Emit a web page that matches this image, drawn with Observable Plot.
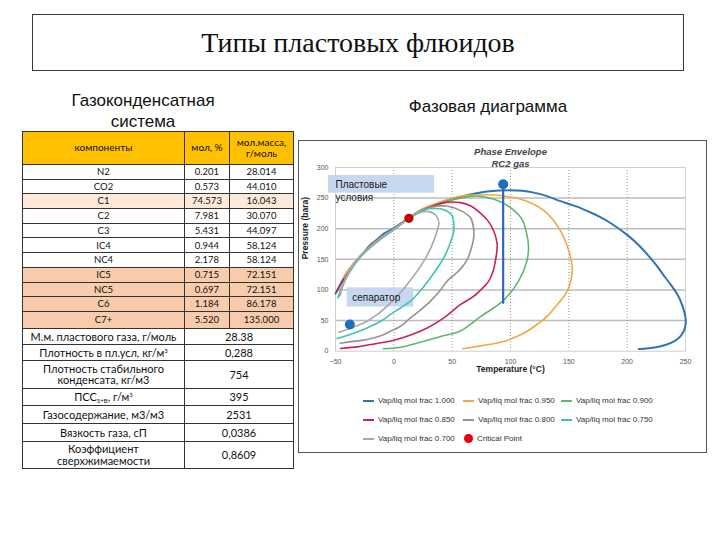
<!DOCTYPE html>
<html><head><meta charset="utf-8">
<script src="https://cdn.jsdelivr.net/npm/d3@7"></script>
<script src="https://cdn.jsdelivr.net/npm/@observablehq/plot@0.6"></script>
<style>
body{margin:0;width:720px;height:540px;background:#fff;position:relative;overflow:hidden;font-family:"Liberation Sans",Arial,sans-serif;}
#titlebox{position:absolute;left:32px;top:14px;width:652px;height:57px;border:1px solid #3a3a3a;box-sizing:border-box;display:flex;align-items:center;justify-content:center;font-family:"Liberation Serif","Times New Roman",serif;font-size:28px;color:#111;}
.h{position:absolute;font-size:17px;text-align:center;color:#111;line-height:21px;}
#tbl{position:absolute;left:22px;top:131px;border-collapse:collapse;table-layout:fixed;font-family:Lato,"Noto Sans",sans-serif;color:#111;}
#tbl td{border:1px solid #333;padding:0;text-align:center;line-height:11.5px;overflow:hidden;white-space:nowrap;}
#tbl sub{font-size:6px;vertical-align:-2px;line-height:0}
#tbl sup{font-size:6px;vertical-align:4px;line-height:0}
#chartbox{position:absolute;left:298px;top:140px;width:409px;height:313px;border:1px solid #555;box-sizing:border-box;}
#plot{position:absolute;left:298px;top:140px;}
#legend{position:absolute;left:363px;top:391px;display:grid;grid-template-columns:100px 98px 110px;grid-auto-rows:19px;font-family:"Liberation Sans",sans-serif;font-size:8px;color:#333;}
#legend .it{display:flex;align-items:center;white-space:nowrap;}
#legend .sw{display:inline-block;width:11px;height:2px;margin-right:4px;}
#legend .dot{display:inline-block;width:9px;height:9px;border-radius:50%;margin-right:4px;margin-left:1px;}
</style>
</head><body>
<div id="titlebox">Типы пластовых флюидов</div>
<div class="h" style="left:48px;top:90px;width:190px;">Газоконденсатная<br>система</div>
<div class="h" style="left:388px;top:96px;width:200px;">Фазовая диаграмма</div>
<table id="tbl"></table>
<div id="chartbox"></div>
<div id="plot"></div>
<div id="legend"></div>
<script>
// ---- Table data ----
const headers = ["компоненты", "мол, %", "мол.масса,\nг/моль"];
const components = ["N2","CO2","C1","C2","C3","IC4","NC4","IC5","NC5","C6","C7+"];
const molPct = ["0.201","0.573","74.573","7.981","5.431","0.944","2.178","0.715","0.697","1.184","5.520"];
const molMass = ["28.014","44.010","16.043","30.070","44.097","58.124","58.124","72.151","72.151","86.178","135.000"];
const propLabels = ["М.м. пластового газа, г/моль","Плотность в пл.усл, кг/м^3","Плотность стабильного\nконденсата, кг/м3","ПСС_5+В_, г/м^3","Газосодержание, м3/м3","Вязкость газа, сП","Коэффициент\nсверхжимаемости"];
const propValues = ["28.38","0,288","754","395","2531","0,0386","0,8609"];

// ---- Chart data: phase envelope curves (Temperature °C, Pressure bara) ----
const seriesNames = ["Vap/liq mol frac 1.000","Vap/liq mol frac 0.950","Vap/liq mol frac 0.900","Vap/liq mol frac 0.850","Vap/liq mol frac 0.800","Vap/liq mol frac 0.750","Vap/liq mol frac 0.700"];
const vap1000 = [[-50,94],[-45,112],[-41,126],[-36,139],[-31,150],[-25,163],[-20,174],[-14,183],[-8.6,192],[0,201],[6,209],[12.9,217],[20,225],[28.6,233.5],[37,240],[45.7,245.5],[55,251],[62.9,254.7],[71,258],[80,260.7],[90,262.5],[100,263],[110,262],[120,259],[130,254],[143,245],[157,236],[168,227],[177,219],[186,209],[200,190],[210,173],[220,152],[226,138],[232,122],[238,107],[243,93],[247,76],[250,55],[250,43],[248.5,33],[246,25],[241,17],[234,11],[226,7],[218,5],[210,3.5]];
const vap0950 = [[59,4],[75,9],[94,16],[110,28],[123,44],[132,58],[140,76],[146,90],[150,104],[153,131],[152,148],[150,164],[143,196],[129,229],[109,248],[86,255],[69,255],[57,253],[40,244],[25,233],[13,218],[0,199],[-10,187],[-20,172],[-30,153],[-38,135],[-43,120]];
const vap0900 = [[-9,4],[5.7,6.5],[25.7,16.4],[40,24],[57,33],[74,56],[94,83],[107,115],[114,147],[115.5,169],[114,191],[110,215],[100,234.5],[86,248],[71,253.5],[57,250],[40,242],[25,231],[13,217],[0,198],[-10,185],[-20,170],[-30,151],[-38,129],[-44,107],[-47,90]];
const vap0850 = [[-45.7,4.4],[-30,7.5],[-20,10.9],[0,18],[15,27],[28.6,38],[42.9,54.5],[57,76],[68.6,90],[76,103],[81.4,114.5],[85,130],[87,147],[88.6,174.5],[85.7,196],[81,212],[74,226],[66,237],[57,242.7],[45,243],[32,236],[20,226],[10,214],[0,199],[-10,186],[-20,171],[-30,152],[-38,131],[-45,111],[-49,97]];
const vap0800 = [[-46,13],[-35,16],[-23,19],[-10,26],[-3,32.7],[5,40],[14.3,54.5],[22,66],[31.4,81.8],[40,100],[45.7,114.5],[52,125],[57,134],[63,150],[65.7,163.6],[68,180],[68.6,196],[65.7,218],[57,230],[45,237],[32,235],[20,226],[10,213],[0,199],[-10,185],[-20,170],[-30,152],[-37,134],[-42,118]];
const vap0750 = [[-48.6,20.7],[-35,29],[-22.9,38],[-12,48],[-2.9,60],[6,71],[14.3,81.8],[23,99],[31.4,120],[37,135],[42.9,152.7],[48,175],[51.4,196],[51.4,207],[50,221],[43,231],[35,233],[25,231],[15,220],[5,206],[0,199],[-10,185],[-20,170],[-30,151],[-38,129],[-44,107],[-48,87]];
const vap0700 = [[-47,31],[-35,39],[-23,49],[-14,60],[-5.7,73.6],[3,90],[11.4,109],[19,128],[25.7,147],[32,170],[37,196],[38.6,210],[36,222],[30,228],[20,225],[10,213],[0,199],[-10,186],[-20,171],[-30,153],[-38,131],[-43,110],[-46,91]];
const seriesPoints = [vap1000, vap0950, vap0900, vap0850, vap0800, vap0750, vap0700];
const seriesColors = ["#2e75b6","#f2a742","#5db96a","#c8235c","#9e9087","#3cc6b1","#a9a9a9"];

const criticalT = [12.9], criticalP = [217];
const stateNames = ["Пластовые условия","сепаратор"];
const stateT = [93.7, -37.7], stateP = [272.7, 43.6];
const pathT = [93.7, 93.7], pathP = [79, 272.7];
const xTicks = [-50,0,50,100,150,200,250];
const yTicks = [0,50,100,150,200,250,300];
// annotation label boxes (in data units)
const boxX1 = [-56,-40], boxX2 = [35,17], boxY1 = [258,72], boxY2 = [287,103.5];
const labelLines = ["Пластовые","условия","сепаратор"];
const labelT = [-50,-50,-35.7], labelP = [272,251,87.7];

// ---- Build table ----
const fmt = s => s.replace(/\n/g,"<br>").replace(/\^(\w+)/g,"<sup>$1</sup>").replace(/_([^_]+)_/g,"<sub>$1</sub>");
const tbl = document.getElementById("tbl");
const colW = [162,45,64];
let html = "<colgroup>" + colW.map(w=>`<col style="width:${w}px">`).join("") + "</colgroup>";
html += `<tr style="height:33px;background:#ffc000;font-size:10px">` + headers.map(h=>`<td>${fmt(h)}</td>`).join("") + "</tr>";
const rowFill = i => i===2 ? "#fce9da" : (i>=7 ? "#f8cbad" : "#fff");
components.forEach((c,i)=>{
  const h = i===10 ? 17 : 14.7;
  html += `<tr style="height:${h}px;background:${rowFill(i)};font-size:9.5px"><td>${c}</td><td>${molPct[i]}</td><td>${molMass[i]}</td></tr>`;
});
const propH = [16,16,28,17,18,18,27];
propLabels.forEach((l,i)=>{
  html += `<tr style="height:${propH[i]}px;font-size:11px"><td>${fmt(l)}</td><td colspan="2">${propValues[i]}</td></tr>`;
});
tbl.innerHTML = html;

// ---- Chart ----
const lineData = seriesPoints.flatMap((pts,k)=>pts.map(([T,P])=>({series:seriesNames[k],T,P})));
const chart = Plot.plot({
  width:408, height:240,
  marginLeft:37, marginRight:21, marginTop:27, marginBottom:29.3,
  x:{domain:[-50,250]}, y:{domain:[0,300]},
  color:{domain:seriesNames, range:seriesColors},
  style:{fontFamily:"Liberation Sans, sans-serif", fontSize:"7px", color:"#555", background:"transparent"},
  marks:[
    Plot.ruleY(yTicks.slice(1,-1), {stroke:"#bdbdbd", strokeWidth:1.5}),
    Plot.ruleX(xTicks.slice(1,-1), {stroke:"#9a9a9a", strokeWidth:1, strokeDasharray:"1,2"}),
    Plot.frame({stroke:"#cfcfcf"}),
    Plot.rect(boxX1.map((d,i)=>i), {x1:i=>boxX1[i], x2:i=>boxX2[i], y1:i=>boxY1[i], y2:i=>boxY2[i], fill:"#c6d8ef"}),
    Plot.line(lineData, {x:"T", y:"P", z:"series", stroke:"series", curve:"catmull-rom", strokeWidth:d=>d.series===seriesNames[0]?2:1.6}),
    Plot.line(pathT.map((t,i)=>({T:t,P:pathP[i]})), {x:"T", y:"P", stroke:"#2f68b0", strokeWidth:2.2}),
    Plot.dot(criticalT.map((t,i)=>({T:t,P:criticalP[i]})), {x:"T", y:"P", r:4.6, fill:"#c00000"}),
    Plot.dot(stateT.map((t,i)=>({T:t,P:stateP[i],name:stateNames[i]})), {x:"T", y:"P", r:5, fill:"#1f6fc1"}),
    Plot.text(labelLines, {x:(d,i)=>labelT[i], y:(d,i)=>labelP[i], text:d=>d, textAnchor:"start", fontSize:10, fill:"#1a1a1a", fontFamily:"Liberation Sans, sans-serif"}),
    Plot.axisY({ticks:yTicks, tickSize:0, tickPadding:7, label:null}),
    Plot.axisX({ticks:xTicks, tickSize:0, tickPadding:8, label:null}),
    Plot.text(["Pressure (bara)"], {frameAnchor:"left", dx:-30, rotate:-90, fontWeight:"bold", fontSize:8.5, fill:"#222"}),
    Plot.text(["Temperature (°C)"], {frameAnchor:"bottom", dy:21, fontWeight:"bold", fontSize:8.5, fill:"#222"}),
    Plot.text(["Phase Envelope"], {frameAnchor:"top", dy:-19.7, fontWeight:"bold", fontStyle:"italic", fontSize:9.5, fill:"#444"}),
    Plot.text(["RC2 gas"], {frameAnchor:"top", dy:-7.7, fontWeight:"bold", fontStyle:"italic", fontSize:9.5, fill:"#444"})
  ]
});
document.getElementById("plot").appendChild(chart);

// ---- Legend ----
const legend = document.getElementById("legend");
seriesNames.forEach((n,k)=>{
  legend.insertAdjacentHTML("beforeend", `<div class="it"><span class="sw" style="background:${seriesColors[k]}"></span>${n}</div>`);
});
legend.insertAdjacentHTML("beforeend", `<div class="it"><span class="dot" style="background:#e8000b"></span>Critical Point</div>`);
</script>
</body></html>
